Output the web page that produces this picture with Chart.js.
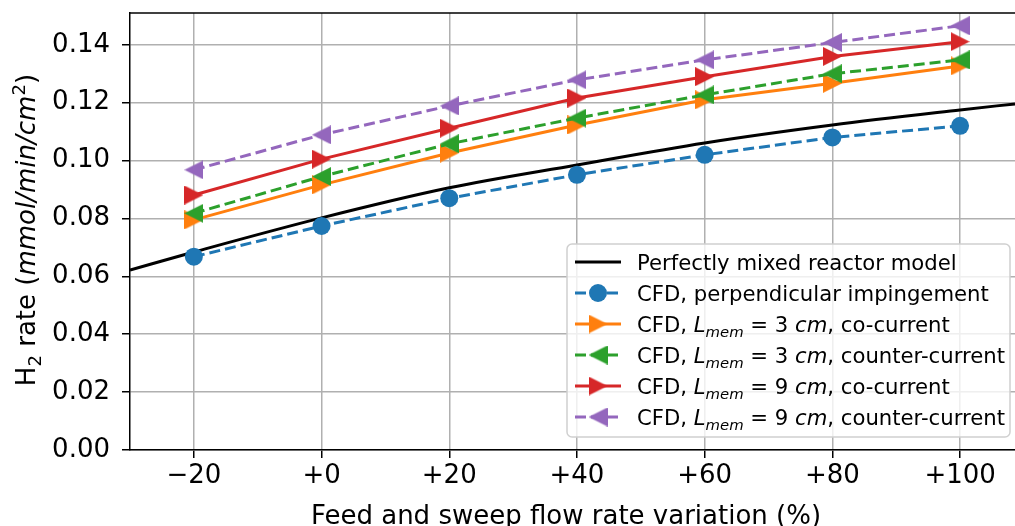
<!DOCTYPE html>
<html lang="en">
<head>
<meta charset="UTF-8" />
<title>H2 rate vs feed and sweep flow rate variation</title>
<script src="https://cdn.jsdelivr.net/npm/chart.js@4.4.0/dist/chart.umd.min.js"></script>
<style>
  html, body { margin: 0; padding: 0; background: #fff; overflow: hidden; }
</style>
</head>
<body>
<canvas id="myChart" width="1015" height="526"></canvas>
<script>
// data
var variation = [-20, 0, 20, 40, 60, 80, 100];
var xTickLabels = ["\u221220", "+0", "+20", "+40", "+60", "+80", "+100"];
var yTicks = [0, 0.02, 0.04, 0.06, 0.08, 0.10, 0.12, 0.14];
var yTickLabels = ["0.00", "0.02", "0.04", "0.06", "0.08", "0.10", "0.12", "0.14"];

var modelX = [-30, -20, 0, 20, 40, 60, 80, 100, 108.6];
var modelRate = [0.0622, 0.0684, 0.0802, 0.0906, 0.0985, 0.1061, 0.1123, 0.1175, 0.1196];

var cfdPerpendicular = [0.0668, 0.0774, 0.0870, 0.0951, 0.1020, 0.1080, 0.1120];
var cfdL3Co = [0.0795, 0.0916, 0.1026, 0.1123, 0.1210, 0.1267, 0.1327];
var cfdL3Counter = [0.0818, 0.0945, 0.1058, 0.1147, 0.1227, 0.1300, 0.1348];
var cfdL9Co = [0.0881, 0.1005, 0.1112, 0.1216, 0.1290, 0.1360, 0.1411];
var cfdL9Counter = [0.0968, 0.1089, 0.1189, 0.1279, 0.1348, 0.1408, 0.1466];

var FONT = "'DejaVu Sans', sans-serif";
var BLUE = "#1f77b4", ORANGE = "#ff7f0e", GREEN = "#2ca02c", RED = "#d62728", PURPLE = "#9467bd";
var DASH = [11, 5];
var TICK_SIZE = 26, LEGEND_SIZE = 21.2;

// matplotlib style triangles (square bounding box)
function triMarker(color, dir) {
  var s = 19;
  var c = document.createElement("canvas");
  c.width = s; c.height = s;
  var g = c.getContext("2d");
  g.fillStyle = color;
  g.beginPath();
  if (dir > 0) { g.moveTo(s, s / 2); g.lineTo(0, 0); g.lineTo(0, s); }
  else { g.moveTo(0, s / 2); g.lineTo(s, 0); g.lineTo(s, s); }
  g.closePath();
  g.fill();
  return c;
}

function series(label, ys, color, dash, marker, order) {
  return {
    label: label,
    data: variation.map(function (x, i) { return { x: x, y: ys[i] }; }),
    borderColor: color,
    backgroundColor: color,
    borderWidth: 3,
    borderDash: dash,
    pointStyle: marker,
    pointRadius: 9,
    pointHoverRadius: 9,
    pointBorderWidth: 0,
    fill: false,
    tension: 0,
    order: order
  };
}

var legendItems = [
  { color: "#000", dash: [], marker: null, parts: [{ t: "Perfectly mixed reactor model" }] },
  { color: BLUE, dash: DASH, marker: "circle", parts: [{ t: "CFD, perpendicular impingement" }] },
  { color: ORANGE, dash: [], marker: triMarker(ORANGE, 1), parts: [{ t: "CFD, " }, { t: "L", it: 1 }, { t: "mem", it: 1, sub: 1 }, { t: " = 3 " }, { t: "cm", it: 1 }, { t: ", co-current" }] },
  { color: GREEN, dash: DASH, marker: triMarker(GREEN, -1), parts: [{ t: "CFD, " }, { t: "L", it: 1 }, { t: "mem", it: 1, sub: 1 }, { t: " = 3 " }, { t: "cm", it: 1 }, { t: ", counter-current" }] },
  { color: RED, dash: [], marker: triMarker(RED, 1), parts: [{ t: "CFD, " }, { t: "L", it: 1 }, { t: "mem", it: 1, sub: 1 }, { t: " = 9 " }, { t: "cm", it: 1 }, { t: ", co-current" }] },
  { color: PURPLE, dash: DASH, marker: triMarker(PURPLE, -1), parts: [{ t: "CFD, " }, { t: "L", it: 1 }, { t: "mem", it: 1, sub: 1 }, { t: " = 9 " }, { t: "cm", it: 1 }, { t: ", counter-current" }] }
];

// text with italic / sub / superscript pieces, left aligned at x, baseline y
function drawRich(ctx, parts, x, y, size, measureOnly) {
  var cx = x;
  parts.forEach(function (p) {
    var s = (p.sub || p.sup) ? size * 0.7 : size;
    var dy = p.sub ? size * 0.22 : (p.sup ? -size * 0.4 : 0);
    ctx.font = (p.it ? "italic " : "") + s + "px " + FONT;
    if (!measureOnly) ctx.fillText(p.t, cx, y + dy);
    cx += ctx.measureText(p.t).width;
  });
  return cx - x;
}

var extras = {
  id: "extras",
  afterDraw: function (chart) {
    var ctx = chart.ctx, a = chart.chartArea;
    ctx.save();
    // top spine
    ctx.strokeStyle = "#000";
    ctx.lineWidth = 1.5;
    ctx.beginPath();
    ctx.moveTo(a.left, a.top);
    ctx.lineTo(a.right, a.top);
    ctx.stroke();

    ctx.fillStyle = "#000";
    ctx.textBaseline = "alphabetic";
    // x title
    ctx.font = TICK_SIZE + "px " + FONT;
    ctx.textAlign = "center";
    ctx.fillText("Feed and sweep flow rate variation (%)", 566, 524);

    // y title
    ctx.textAlign = "left";
    var yParts = [{ t: "H" }, { t: "2", sub: 1 }, { t: " rate (" }, { t: "mmol/min/cm", it: 1 }, { t: "2", sup: 1 }, { t: ")" }];
    var w = drawRich(ctx, yParts, 0, 0, TICK_SIZE, true);
    ctx.translate(35, 230);
    ctx.rotate(-Math.PI / 2);
    drawRich(ctx, yParts, -w / 2, 0, TICK_SIZE);
    ctx.setTransform(1, 0, 0, 1, 0, 0);

    // legend box
    var bx = 567, by = 244, bw = 443, bh = 193, r = 5;
    ctx.beginPath();
    ctx.moveTo(bx + r, by);
    ctx.arcTo(bx + bw, by, bx + bw, by + bh, r);
    ctx.arcTo(bx + bw, by + bh, bx, by + bh, r);
    ctx.arcTo(bx, by + bh, bx, by, r);
    ctx.arcTo(bx, by, bx + bw, by, r);
    ctx.closePath();
    ctx.fillStyle = "rgba(255,255,255,0.8)";
    ctx.fill();
    ctx.strokeStyle = "#d0d0d0";
    ctx.lineWidth = 1.5;
    ctx.stroke();

    legendItems.forEach(function (it, i) {
      var cy = 262 + i * 31;
      ctx.strokeStyle = it.color;
      ctx.lineWidth = 3;
      ctx.setLineDash(it.dash);
      ctx.beginPath();
      ctx.moveTo(575, cy);
      ctx.lineTo(621, cy);
      ctx.stroke();
      ctx.setLineDash([]);
      if (it.marker === "circle") {
        ctx.fillStyle = it.color;
        ctx.beginPath();
        ctx.arc(598, cy, 9, 0, Math.PI * 2);
        ctx.fill();
      } else if (it.marker) {
        ctx.drawImage(it.marker, 598 - 9.5, cy - 9.5);
      }
      ctx.fillStyle = "#000";
      drawRich(ctx, it.parts, 637, cy + 8, LEGEND_SIZE);
    });
    ctx.restore();
  }
};

var ctx = document.getElementById("myChart").getContext("2d");
var chart = new Chart(ctx, {
  type: "line",
  data: {
    datasets: [
      {
        label: "Perfectly mixed reactor model",
        data: modelX.map(function (x, i) { return { x: x, y: modelRate[i] }; }),
        borderColor: "#000",
        borderWidth: 3,
        pointRadius: 0,
        fill: false,
        cubicInterpolationMode: "monotone",
        order: 6
      },
      series("CFD, perpendicular impingement", cfdPerpendicular, BLUE, DASH, "circle", 5),
      series("CFD, Lmem = 3 cm, co-current", cfdL3Co, ORANGE, [], triMarker(ORANGE, 1), 4),
      series("CFD, Lmem = 3 cm, counter-current", cfdL3Counter, GREEN, DASH, triMarker(GREEN, -1), 3),
      series("CFD, Lmem = 9 cm, co-current", cfdL9Co, RED, [], triMarker(RED, 1), 2),
      series("CFD, Lmem = 9 cm, counter-current", cfdL9Counter, PURPLE, DASH, triMarker(PURPLE, -1), 1)
    ]
  },
  options: {
    responsive: false,
    animation: false,
    // the plot runs off the right edge of the figure, so no extra room for markers
    layout: { autoPadding: false, padding: 0 },
    plugins: { legend: { display: false }, tooltip: { enabled: false } },
    scales: {
      x: {
        type: "linear",
        min: -30,
        max: 108.6,
        afterBuildTicks: function (s) { s.ticks = variation.map(function (v) { return { value: v }; }); },
        afterFit: function (s) { s.height = 76; s.paddingLeft = 0; s.paddingRight = 0; },
        ticks: {
          callback: function (v) { return xTickLabels[variation.indexOf(v)]; },
          color: "#000",
          font: { family: FONT, size: TICK_SIZE },
          padding: 3,
          maxRotation: 0,
          autoSkip: false
        },
        grid: { color: "#b0b0b0", lineWidth: 1.5, tickLength: 8, tickColor: "#000", tickWidth: 1.5 },
        border: { color: "#000", width: 1.5 }
      },
      y: {
        type: "linear",
        min: 0,
        max: 0.151,
        afterBuildTicks: function (s) { s.ticks = yTicks.map(function (v) { return { value: v }; }); },
        afterFit: function (s) { s.width = 130; s.paddingTop = 13; s.paddingBottom = 0; },
        ticks: {
          callback: function (v) { return yTickLabels[yTicks.indexOf(v)]; },
          color: "#000",
          font: { family: FONT, size: TICK_SIZE },
          padding: 12
        },
        grid: { color: "#b0b0b0", lineWidth: 1.5, tickLength: 8, tickColor: "#000", tickWidth: 1.5 },
        border: { color: "#000", width: 1.5 }
      }
    }
  },
  plugins: [extras]
});
</script>
</body>
</html>
